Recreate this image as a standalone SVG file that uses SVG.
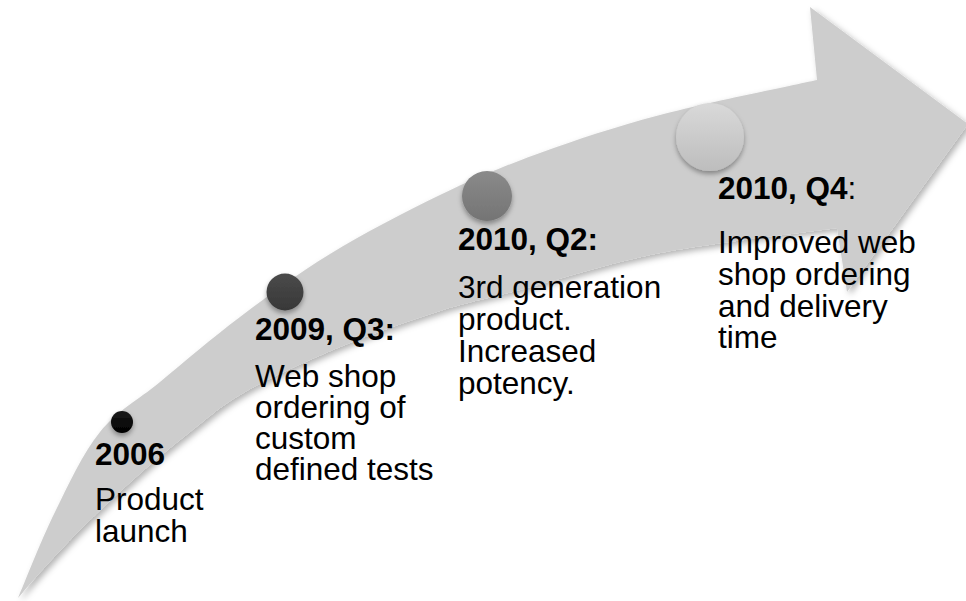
<svg xmlns="http://www.w3.org/2000/svg" width="966" height="601" viewBox="0 0 966 601">
  <style>
    .hd { font-family: "Liberation Sans", Arial, sans-serif; font-size: 31.5px; font-weight: bold; fill: #000; }
    .bd { font-family: "Liberation Sans", Arial, sans-serif; font-size: 31.5px; fill: #000; }
    .rg { font-weight: normal; }
  </style>
  <defs>
    <filter id="ashadow" x="-5%" y="-5%" width="112%" height="115%">
      <feDropShadow dx="3" dy="3" stdDeviation="3" flood-color="#000" flood-opacity="0.3"/>
    </filter>
    <filter id="dshadow" x="-40%" y="-40%" width="180%" height="190%">
      <feDropShadow dx="0" dy="3" stdDeviation="2.5" flood-color="#000" flood-opacity="0.35"/>
    </filter>
    <linearGradient id="g1" x1="0" y1="0" x2="0" y2="1">
      <stop offset="0" stop-color="#1a1a1a"/>
      <stop offset="1" stop-color="#000"/>
    </linearGradient>
    <linearGradient id="g2" x1="0" y1="0" x2="0" y2="1">
      <stop offset="0" stop-color="#4a4a4a"/>
      <stop offset="1" stop-color="#383838"/>
    </linearGradient>
    <linearGradient id="g3" x1="0" y1="0" x2="0" y2="1">
      <stop offset="0" stop-color="#8a8a8a"/>
      <stop offset="1" stop-color="#747474"/>
    </linearGradient>
    <linearGradient id="g4" x1="0" y1="0" x2="0" y2="1">
      <stop offset="0" stop-color="#d9d9d9"/>
      <stop offset="1" stop-color="#bdbdbd"/>
    </linearGradient>
  </defs>

  <g id="connectors">
    <path id="arrow" filter="url(#ashadow)" fill="#cdcdcd"
      d="M18,598
         C24.2,583.7 41.3,539.7 55,512
         C68.7,484.3 82.5,453.7 100,432
         C117.5,410.3 136.7,401.2 160,382
         C183.3,362.8 211.7,338.3 240,317
         C268.3,295.7 296.7,274.3 330,254
         C363.3,233.7 405,211.8 440,195
         C475,178.2 503.3,166.3 540,153
         C576.7,139.7 613.8,127.2 660,115
         C706.2,102.8 790.8,85.8 817,80
         L810,7 L968,124 L847,292 L837,228
         C807.5,232.2 712.8,242.7 660,253
         C607.2,263.3 556.7,280.3 520,290
         C483.3,299.7 470,301.5 440,311
         C410,320.5 372.5,333.5 340,347
         C307.5,360.5 270,377.8 245,392
         C220,406.2 208.3,417.7 190,432
         C171.7,446.3 152.5,462.5 135,478
         C117.5,493.5 100,510.2 85,525
         C70,539.8 56.2,554.8 45,567
         C33.8,579.2 22.5,592.8 18,598 Z"/>
  </g>

  <g id="node-2006">
    <circle cx="122" cy="422" r="11" fill="url(#g1)" filter="url(#dshadow)"/>
    <text class="hd" x="95" y="465">2006</text>
    <text class="bd" x="95" y="510">Product</text>
    <text class="bd" x="95" y="542">launch</text>
  </g>

  <g id="node-2009q3">
    <circle cx="285" cy="292" r="18.5" fill="url(#g2)" filter="url(#dshadow)"/>
    <text class="hd" x="255" y="340">2009, Q3:</text>
    <text class="bd" x="255" y="387">Web shop</text>
    <text class="bd" x="255" y="418">ordering of</text>
    <text class="bd" x="255" y="449">custom</text>
    <text class="bd" x="255" y="480">defined tests</text>
  </g>

  <g id="node-2010q2">
    <circle cx="487" cy="196" r="25" fill="url(#g3)" filter="url(#dshadow)"/>
    <text class="hd" x="458" y="250">2010, Q2:</text>
    <text class="bd" x="458" y="298">3rd generation</text>
    <text class="bd" x="458" y="330">product.</text>
    <text class="bd" x="458" y="362">Increased</text>
    <text class="bd" x="458" y="394">potency.</text>
  </g>

  <g id="node-2010q4">
    <circle cx="710" cy="137" r="34" fill="url(#g4)" filter="url(#dshadow)"/>
    <text class="hd" x="718" y="199">2010, Q4<tspan class="rg">:</tspan></text>
    <text class="bd" x="718" y="253">Improved web</text>
    <text class="bd" x="718" y="285">shop ordering</text>
    <text class="bd" x="718" y="317">and delivery</text>
    <text class="bd" x="718" y="348">time</text>
  </g>
</svg>
